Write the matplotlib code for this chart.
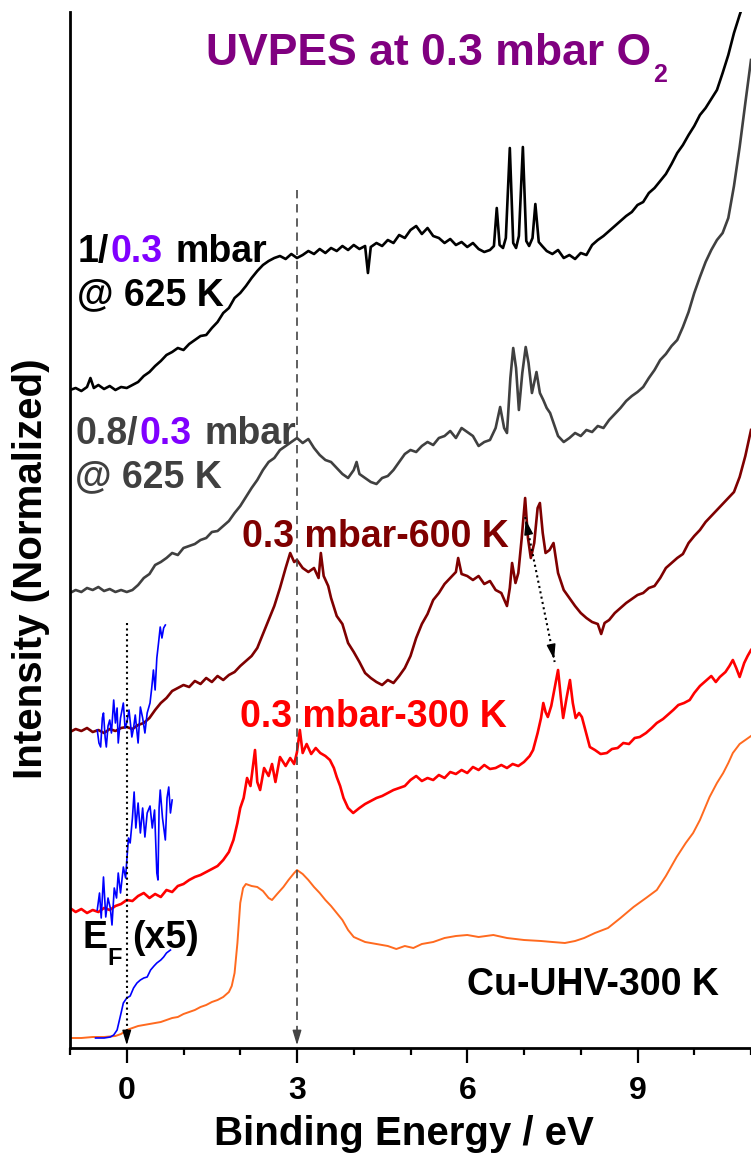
import numpy as np
import matplotlib
matplotlib.use('Agg')
import matplotlib.pyplot as plt
from matplotlib.ticker import MultipleLocator

plt.rcParams['font.family'] = ['Liberation Sans', 'DejaVu Sans']
plt.rcParams['font.weight'] = 'bold'

# UVPES spectra, (binding energy / eV, intensity) -- stacked with offsets as in the figure
o2_1mbar_625 = [(-1.0, 6.58), (-0.9, 6.60), (-0.8, 6.57), (-0.7, 6.61), (-0.64, 6.70), (-0.58, 6.60), (-0.5, 6.63),
    (-0.4, 6.59), (-0.3, 6.62), (-0.2, 6.58), (-0.1, 6.61), (0.0, 6.60), (0.1, 6.63), (0.2, 6.66), (0.3, 6.72),
    (0.4, 6.76), (0.5, 6.82), (0.6, 6.87), (0.7, 6.93), (0.8, 6.96), (0.9, 7.00), (1.0, 6.98), (1.1, 7.04),
    (1.2, 7.08), (1.3, 7.12), (1.4, 7.13), (1.5, 7.20), (1.6, 7.26), (1.7, 7.35), (1.8, 7.40), (1.9, 7.50),
    (2.0, 7.55), (2.1, 7.62), (2.2, 7.70), (2.3, 7.77), (2.4, 7.83), (2.5, 7.87), (2.6, 7.90), (2.7, 7.92),
    (2.8, 7.89), (2.9, 7.94), (3.0, 7.90), (3.1, 7.93), (3.2, 7.97), (3.3, 7.94), (3.4, 7.99), (3.5, 7.95),
    (3.6, 8.00), (3.7, 7.97), (3.8, 8.02), (3.9, 7.98), (4.0, 8.03), (4.1, 7.99), (4.2, 8.02), (4.25, 7.75),
    (4.3, 8.01), (4.4, 8.05), (4.5, 8.02), (4.6, 8.08), (4.7, 8.05), (4.8, 8.13), (4.9, 8.10), (5.0, 8.18),
    (5.1, 8.22), (5.2, 8.14), (5.3, 8.20), (5.4, 8.12), (5.5, 8.10), (5.6, 8.05), (5.7, 8.09), (5.8, 8.03),
    (5.9, 8.06), (6.0, 8.01), (6.1, 8.05), (6.2, 7.99), (6.3, 7.96), (6.4, 7.98), (6.47, 8.02), (6.52, 8.40),
    (6.57, 8.03), (6.63, 8.00), (6.68, 8.10), (6.75, 9.00), (6.81, 8.05), (6.86, 8.00), (6.91, 8.12),
    (6.98, 9.01), (7.04, 8.07), (7.09, 8.02), (7.15, 8.10), (7.2, 8.44), (7.26, 8.06), (7.32, 8.02),
    (7.4, 7.97), (7.5, 7.94), (7.6, 7.98), (7.7, 7.90), (7.8, 7.93), (7.9, 7.89), (8.0, 7.95), (8.1, 7.93),
    (8.2, 8.03), (8.3, 8.08), (8.4, 8.12), (8.5, 8.17), (8.6, 8.22), (8.7, 8.27), (8.8, 8.32), (8.9, 8.36),
    (9.0, 8.43), (9.1, 8.46), (9.2, 8.55), (9.3, 8.60), (9.4, 8.67), (9.5, 8.74), (9.6, 8.84), (9.7, 8.95),
    (9.8, 9.03), (9.9, 9.13), (10.0, 9.22), (10.1, 9.33), (10.2, 9.40), (10.3, 9.49), (10.4, 9.58),
    (10.5, 9.75), (10.6, 9.93), (10.7, 10.15), (10.8, 10.33), (10.9, 10.50)]

o2_08mbar_625 = [(-1.0, 4.55), (-0.9, 4.58), (-0.8, 4.56), (-0.7, 4.60), (-0.6, 4.58), (-0.5, 4.61), (-0.4, 4.57),
    (-0.3, 4.59), (-0.2, 4.56), (-0.1, 4.58), (0.0, 4.56), (0.1, 4.58), (0.2, 4.63), (0.3, 4.70), (0.4, 4.74),
    (0.5, 4.83), (0.6, 4.86), (0.7, 4.90), (0.8, 4.95), (0.9, 4.93), (1.0, 5.00), (1.1, 5.02), (1.2, 5.04),
    (1.3, 5.08), (1.4, 5.10), (1.5, 5.16), (1.6, 5.17), (1.7, 5.22), (1.8, 5.27), (1.9, 5.35), (2.0, 5.42),
    (2.1, 5.51), (2.2, 5.60), (2.3, 5.68), (2.4, 5.78), (2.5, 5.86), (2.6, 5.90), (2.7, 5.98), (2.8, 6.02),
    (2.9, 6.06), (3.0, 6.10), (3.1, 6.05), (3.2, 6.09), (3.3, 6.00), (3.4, 5.93), (3.5, 5.88), (3.6, 5.86),
    (3.7, 5.80), (3.8, 5.74), (3.9, 5.70), (4.0, 5.78), (4.05, 5.86), (4.1, 5.74), (4.2, 5.70), (4.3, 5.66),
    (4.4, 5.64), (4.5, 5.70), (4.6, 5.72), (4.7, 5.78), (4.8, 5.86), (4.9, 5.94), (5.0, 5.98), (5.1, 5.96),
    (5.2, 6.02), (5.3, 6.06), (5.4, 6.03), (5.5, 6.10), (5.6, 6.12), (5.7, 6.17), (5.8, 6.10), (5.9, 6.20),
    (6.0, 6.16), (6.1, 6.12), (6.2, 6.02), (6.3, 6.06), (6.4, 6.08), (6.5, 6.20), (6.58, 6.41), (6.65, 6.20),
    (6.7, 6.15), (6.76, 6.70), (6.81, 7.00), (6.86, 6.80), (6.91, 6.38), (6.97, 6.75), (7.03, 7.01),
    (7.08, 6.85), (7.14, 6.55), (7.22, 6.76), (7.28, 6.55), (7.34, 6.48), (7.4, 6.40), (7.46, 6.35),
    (7.55, 6.20), (7.6, 6.12), (7.7, 6.06), (7.8, 6.10), (7.9, 6.15), (8.0, 6.12), (8.1, 6.18), (8.2, 6.16),
    (8.3, 6.22), (8.4, 6.20), (8.5, 6.28), (8.6, 6.34), (8.7, 6.40), (8.8, 6.47), (8.9, 6.52), (9.0, 6.56),
    (9.1, 6.61), (9.2, 6.70), (9.3, 6.78), (9.4, 6.88), (9.5, 6.94), (9.6, 7.02), (9.7, 7.08), (9.8, 7.21),
    (9.9, 7.36), (10.0, 7.55), (10.1, 7.71), (10.2, 7.86), (10.3, 7.98), (10.4, 8.08), (10.5, 8.15),
    (10.6, 8.30), (10.7, 8.62), (10.8, 9.01), (10.9, 9.45), (11.0, 9.88)]

o2_03mbar_600 = [(-1.0, 3.16), (-0.9, 3.19), (-0.8, 3.17), (-0.7, 3.20), (-0.6, 3.16), (-0.5, 3.18), (-0.4, 3.15),
    (-0.3, 3.19), (-0.2, 3.17), (-0.1, 3.20), (0.0, 3.21), (0.1, 3.19), (0.2, 3.23), (0.3, 3.25), (0.4, 3.30),
    (0.5, 3.38), (0.6, 3.45), (0.7, 3.50), (0.8, 3.57), (0.9, 3.60), (1.0, 3.63), (1.1, 3.61), (1.2, 3.67),
    (1.3, 3.64), (1.4, 3.70), (1.5, 3.66), (1.6, 3.72), (1.7, 3.68), (1.8, 3.73), (1.9, 3.76), (2.0, 3.82),
    (2.1, 3.87), (2.2, 3.92), (2.3, 4.00), (2.4, 4.14), (2.5, 4.28), (2.6, 4.42), (2.7, 4.60), (2.8, 4.80),
    (2.88, 4.95), (2.95, 4.86), (3.0, 4.88), (3.1, 4.80), (3.2, 4.76), (3.3, 4.80), (3.38, 4.70), (3.42, 4.95),
    (3.47, 4.72), (3.55, 4.62), (3.6, 4.50), (3.7, 4.32), (3.8, 4.24), (3.9, 4.05), (4.0, 3.96), (4.1, 3.86),
    (4.2, 3.75), (4.3, 3.70), (4.4, 3.66), (4.5, 3.63), (4.6, 3.68), (4.7, 3.65), (4.8, 3.72), (4.9, 3.80),
    (5.0, 3.92), (5.1, 4.10), (5.2, 4.24), (5.3, 4.34), (5.4, 4.48), (5.5, 4.55), (5.6, 4.64), (5.7, 4.70),
    (5.8, 4.76), (5.84, 4.90), (5.9, 4.74), (6.0, 4.72), (6.1, 4.68), (6.2, 4.72), (6.3, 4.64), (6.4, 4.67),
    (6.5, 4.58), (6.6, 4.55), (6.7, 4.42), (6.75, 4.60), (6.79, 4.85), (6.85, 4.65), (6.9, 4.75), (6.96, 5.10),
    (7.02, 5.50), (7.07, 5.10), (7.12, 4.90), (7.18, 5.05), (7.24, 5.40), (7.28, 5.45), (7.33, 5.15),
    (7.38, 4.95), (7.45, 4.98), (7.52, 5.05), (7.6, 4.75), (7.7, 4.58), (7.8, 4.50), (7.9, 4.42), (8.0, 4.35),
    (8.1, 4.30), (8.2, 4.26), (8.3, 4.24), (8.36, 4.14), (8.42, 4.25), (8.5, 4.28), (8.6, 4.35), (8.7, 4.40),
    (8.8, 4.45), (8.9, 4.49), (9.0, 4.53), (9.1, 4.55), (9.2, 4.60), (9.3, 4.62), (9.4, 4.70), (9.5, 4.80),
    (9.6, 4.85), (9.7, 4.90), (9.8, 4.94), (9.9, 5.05), (10.0, 5.12), (10.1, 5.18), (10.2, 5.26), (10.3, 5.32),
    (10.4, 5.38), (10.5, 5.44), (10.6, 5.50), (10.7, 5.56), (10.8, 5.71), (10.9, 5.92), (11.0, 6.18)]

o2_03mbar_300 = [(-1.0, 1.40), (-0.9, 1.36), (-0.8, 1.39), (-0.7, 1.35), (-0.6, 1.38), (-0.5, 1.36), (-0.4, 1.40),
    (-0.3, 1.38), (-0.2, 1.42), (-0.1, 1.44), (0.0, 1.48), (0.1, 1.47), (0.2, 1.52), (0.3, 1.55), (0.4, 1.50),
    (0.5, 1.54), (0.6, 1.51), (0.7, 1.58), (0.8, 1.56), (0.9, 1.62), (1.0, 1.64), (1.1, 1.68), (1.2, 1.71),
    (1.3, 1.73), (1.4, 1.76), (1.5, 1.79), (1.6, 1.82), (1.7, 1.88), (1.8, 1.96), (1.88, 2.08), (1.95, 2.25),
    (2.0, 2.40), (2.06, 2.50), (2.12, 2.70), (2.18, 2.62), (2.26, 2.98), (2.3, 2.66), (2.35, 2.58), (2.42, 2.80),
    (2.5, 2.72), (2.56, 2.84), (2.62, 2.66), (2.7, 2.91), (2.8, 2.82), (2.88, 2.90), (2.95, 2.84), (3.0, 2.96),
    (3.05, 3.18), (3.1, 2.95), (3.17, 3.04), (3.25, 2.94), (3.33, 3.00), (3.41, 2.95), (3.5, 2.92), (3.58, 2.88),
    (3.65, 2.80), (3.7, 2.71), (3.76, 2.62), (3.82, 2.50), (3.9, 2.40), (3.99, 2.35), (4.1, 2.40), (4.2, 2.44),
    (4.3, 2.47), (4.4, 2.50), (4.5, 2.52), (4.6, 2.55), (4.7, 2.58), (4.8, 2.60), (4.9, 2.62), (5.0, 2.68),
    (5.1, 2.72), (5.2, 2.67), (5.3, 2.70), (5.4, 2.68), (5.5, 2.73), (5.6, 2.70), (5.7, 2.76), (5.8, 2.74),
    (5.9, 2.78), (6.0, 2.75), (6.1, 2.81), (6.2, 2.78), (6.3, 2.83), (6.4, 2.79), (6.5, 2.80), (6.6, 2.83),
    (6.7, 2.80), (6.8, 2.84), (6.9, 2.82), (7.0, 2.86), (7.1, 2.92), (7.16, 2.98), (7.24, 3.15), (7.3, 3.30),
    (7.34, 3.45), (7.38, 3.36), (7.42, 3.31), (7.48, 3.42), (7.54, 3.60), (7.6, 3.78), (7.65, 3.50),
    (7.69, 3.30), (7.75, 3.50), (7.81, 3.68), (7.86, 3.45), (7.91, 3.30), (7.97, 3.35), (8.02, 3.31),
    (8.08, 3.18), (8.16, 3.01), (8.25, 2.98), (8.35, 2.94), (8.46, 2.95), (8.55, 2.99), (8.65, 3.00),
    (8.75, 3.05), (8.85, 3.04), (8.95, 3.10), (9.04, 3.11), (9.15, 3.15), (9.25, 3.20), (9.34, 3.25),
    (9.45, 3.29), (9.55, 3.34), (9.63, 3.38), (9.72, 3.43), (9.82, 3.45), (9.92, 3.48), (10.0, 3.55),
    (10.1, 3.62), (10.22, 3.68), (10.3, 3.72), (10.38, 3.66), (10.45, 3.71), (10.55, 3.76), (10.62, 3.82),
    (10.68, 3.88), (10.74, 3.80), (10.8, 3.71), (10.88, 3.85), (10.94, 3.92), (11.0, 3.98)]

cu_uhv_300 = [(-1.0, 0.10), (-0.8, 0.10), (-0.6, 0.11), (-0.4, 0.11), (-0.2, 0.12), (-0.1, 0.14), (0.0, 0.18),
    (0.1, 0.20), (0.2, 0.22), (0.3, 0.23), (0.4, 0.24), (0.5, 0.25), (0.6, 0.26), (0.7, 0.28), (0.8, 0.30),
    (0.9, 0.31), (1.0, 0.34), (1.1, 0.36), (1.2, 0.38), (1.3, 0.41), (1.4, 0.43), (1.5, 0.46), (1.6, 0.48),
    (1.7, 0.51), (1.8, 0.56), (1.85, 0.62), (1.9, 0.75), (1.95, 1.05), (2.0, 1.45), (2.05, 1.60), (2.1, 1.64),
    (2.2, 1.62), (2.3, 1.61), (2.4, 1.57), (2.5, 1.50), (2.56, 1.48), (2.65, 1.54), (2.76, 1.61), (2.85, 1.68),
    (2.95, 1.75), (3.0, 1.78), (3.1, 1.74), (3.2, 1.68), (3.3, 1.61), (3.4, 1.55), (3.5, 1.48), (3.6, 1.42),
    (3.7, 1.35), (3.8, 1.28), (3.9, 1.18), (4.0, 1.11), (4.2, 1.06), (4.4, 1.04), (4.6, 1.02), (4.75, 0.99),
    (4.9, 1.02), (5.05, 1.00), (5.2, 1.04), (5.4, 1.06), (5.6, 1.10), (5.8, 1.12), (6.0, 1.13), (6.2, 1.11),
    (6.46, 1.13), (6.7, 1.10), (7.0, 1.08), (7.3, 1.07), (7.5, 1.06), (7.72, 1.05), (7.9, 1.07), (8.06, 1.10),
    (8.25, 1.15), (8.48, 1.20), (8.7, 1.30), (8.93, 1.41), (9.15, 1.50), (9.34, 1.58), (9.5, 1.72),
    (9.69, 1.91), (9.85, 2.05), (9.98, 2.15), (10.1, 2.28), (10.27, 2.51), (10.4, 2.65), (10.51, 2.75),
    (10.6, 2.85), (10.68, 2.95), (10.8, 3.04), (10.9, 3.08), (11.0, 3.12)]

# Fermi edge regions magnified x5
ef_600 = [(-0.52, 3.18), (-0.49, 3.05), (-0.46, 3.01), (-0.43, 3.30), (-0.41, 3.35), (-0.38, 3.10), (-0.36, 3.01),
    (-0.33, 3.22), (-0.3, 3.28), (-0.27, 3.15), (-0.23, 3.48), (-0.2, 3.25), (-0.17, 3.40), (-0.15, 3.05),
    (-0.11, 3.30), (-0.06, 3.45), (-0.03, 3.20), (0.0, 3.25), (0.04, 3.38), (0.09, 3.11), (0.12, 3.20),
    (0.15, 3.33), (0.2, 3.05), (0.24, 3.41), (0.28, 3.30), (0.32, 3.15), (0.36, 3.35), (0.41, 3.45),
    (0.44, 3.60), (0.47, 3.78), (0.5, 3.58), (0.53, 3.90), (0.56, 4.05), (0.59, 4.21), (0.62, 4.10),
    (0.65, 4.20), (0.68, 4.23)]
ef_300 = [(-0.52, 1.38), (-0.48, 1.55), (-0.45, 1.30), (-0.41, 1.71), (-0.37, 1.31), (-0.33, 1.50), (-0.29, 1.40),
    (-0.26, 1.23), (-0.22, 1.60), (-0.18, 1.50), (-0.15, 1.75), (-0.11, 1.55), (-0.06, 1.81), (-0.02, 1.70),
    (0.0, 1.87), (0.03, 2.10), (0.06, 2.05), (0.1, 2.30), (0.13, 2.56), (0.16, 2.20), (0.2, 2.45), (0.24, 2.15),
    (0.28, 2.40), (0.32, 2.11), (0.36, 2.35), (0.41, 2.42), (0.45, 2.20), (0.49, 2.38), (0.53, 1.75),
    (0.55, 1.68), (0.57, 2.40), (0.59, 2.58), (0.63, 2.30), (0.68, 2.08), (0.71, 2.50), (0.74, 2.61),
    (0.77, 2.35), (0.8, 2.48)]
ef_uhv = [(-0.55, 0.10), (-0.4, 0.10), (-0.29, 0.11), (-0.23, 0.13), (-0.17, 0.18), (-0.1, 0.35), (-0.06, 0.45),
    (0.0, 0.50), (0.06, 0.52), (0.12, 0.60), (0.18, 0.65), (0.24, 0.68), (0.3, 0.70), (0.36, 0.71),
    (0.42, 0.78), (0.48, 0.82), (0.53, 0.85), (0.6, 0.88), (0.65, 0.91), (0.7, 0.95), (0.77, 0.98)]

fig = plt.figure(figsize=(7.51, 11.55), dpi=100)
ax = fig.add_axes([70/751, 107/1155, 681/751, 1036/1155])

spectra = [(o2_1mbar_625, 'black', 1.9), (o2_08mbar_625, '#404040', 1.9), (o2_03mbar_600, '#7f0000', 1.9),
           (o2_03mbar_300, '#ff0000', 1.9), (cu_uhv_300, '#ff6a1f', 1.4)]
for pts, col, lw in spectra:
    x, y = np.array(pts).T
    ax.plot(x, y, color=col, lw=lw)
for pts in (ef_600, ef_300, ef_uhv):
    x, y = np.array(pts).T
    ax.plot(x, y, color='#0000ff', lw=1.2)

# guide lines
head = dict(arrowstyle='-|>,head_length=0.5,head_width=0.15', mutation_scale=18, lw=1)
ax.plot([3, 3], [8.58, 0.15], color='#444444', lw=1.2, ls=(0, (5, 3.5)))
ax.annotate('', xy=(3, 0), xytext=(3, 0.2), arrowprops=dict(color='#444444', **head))
ax.plot([0, 0], [4.25, 0.15], color='black', lw=1.5, ls=(0, (1, 1.6)))
ax.annotate('', xy=(0, 0), xytext=(0, 0.2), arrowprops=dict(color='black', **head))
ax.plot([7.02, 7.54], [5.31, 3.86], color='black', lw=1.5, ls=(0, (1, 1.6)))
ax.annotate('', xy=(7.54, 3.86), xytext=(7.49, 4.0), arrowprops=dict(color='black', **head))
ax.annotate('', xy=(7.02, 5.31), xytext=(7.07, 5.17), arrowprops=dict(color='black', **head))


def multicolor(x, y, parts, size=27):
    t = ax.text(x, y, parts[0][0], color=parts[0][1], fontsize=size, fontweight='bold', va='bottom')
    for s, c, gap in parts[1:]:
        t = ax.annotate(s, xy=(1, 0), xycoords=t, xytext=(gap, 0), textcoords='offset points',
                        color=c, fontsize=size, fontweight='bold', va='bottom')
    return t


multicolor(-0.87, 7.78, [('1/', 'black'), ('0.3', '#8000ff', 1.5), ('mbar', 'black', 9)])
ax.text(-0.87, 7.43, '@ 625 K', color='black', fontsize=27, fontweight='bold', va='baseline')
multicolor(-0.91, 5.96, [('0.8/', '#404040'), ('0.3', '#8000ff', 1.5), ('mbar', '#404040', 9)])
ax.text(-0.91, 5.61, '@ 625 K', color='#404040', fontsize=27, fontweight='bold', va='baseline')
ax.text(2.03, 5.01, '0.3 mbar-600 K', color='#7f0000', fontsize=27, fontweight='bold', va='baseline')
ax.text(2.0, 3.21, '0.3 mbar-300 K', color='#ff0000', fontsize=27, fontweight='bold', va='baseline')
ax.text(-0.78, 1.00, 'E', fontsize=27, fontweight='bold', va='baseline')
ax.text(-0.34, 0.83, 'F', fontsize=17, fontweight='bold', va='baseline')
ax.text(0.10, 1.00, '(x5)', fontsize=27, fontweight='bold', va='baseline')
ax.text(5.99, 0.53, 'Cu-UHV-300 K', fontsize=27, fontweight='bold', va='baseline')
title = ax.text(1.40, 9.83, 'UVPES at 0.3 mbar O', color='#800080', fontsize=32, fontweight='bold', va='baseline')
ax.annotate('2', xy=(1, 0), xycoords=title, xytext=(1, -9), textcoords='offset points',
            color='#800080', fontsize=18, fontweight='bold', va='bottom')

ax.set_xlim(-1, 11)
ax.set_ylim(0, 10.36)
ax.set_yticks([])
ax.xaxis.set_major_locator(MultipleLocator(3))
ax.xaxis.set_minor_locator(MultipleLocator(1))
ax.tick_params(axis='x', which='major', length=10.5, width=1.6, labelsize=23, pad=10)
ax.tick_params(axis='x', which='minor', length=5, width=1.6)
for lab in ax.get_xticklabels():
    lab.set_fontweight('bold')
for side in ('top', 'right'):
    ax.spines[side].set_visible(False)
for side in ('left', 'bottom'):
    ax.spines[side].set_linewidth(2.0)

fig.text(404/751, 10/1155, 'Binding Energy / eV', ha='center', va='baseline', fontsize=29, fontweight='bold')
fig.text(31/751, 1 - 569/1155, 'Intensity (Normalized)', rotation=90, ha='center', va='center',
         fontsize=29, fontweight='bold')

fig.savefig('out.png', dpi=100)
